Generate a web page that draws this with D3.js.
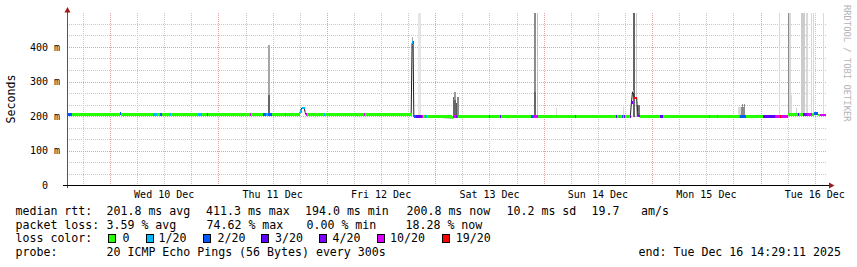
<!DOCTYPE html>
<html lang="en">
<head>
<meta charset="UTF-8">
<title>Smokeping latency</title>
<script src="https://cdn.jsdelivr.net/npm/d3@7"></script>
<style>
	body{margin:0;background:#fff;}
	svg{display:block;}
	text{font-family:"DejaVu Sans Mono",monospace;fill:#000;}
</style>
</head>
<body>
<svg id="chart" width="857" height="267"></svg>
<script>
// time span of the graph (December 2025, "DD HH:MM")
var startTime = "09 14:29", endTime = "16 14:29";

// median rtt in ms, line vertices
var median = [
	["09 14:29", 204.5], ["10 02:05", 204.5], ["10 02:15", 207], ["10 02:30", 204.5],
	["10 09:25", 203.5], ["11 00:45", 204.5], ["11 17:55", 204.5], ["11 18:10", 214],
	["11 18:25", 223], ["11 19:00", 223], ["11 19:10", 212], ["11 19:20", 204.5],
	["12 18:40", 204.5], ["12 18:52", 412], ["12 19:05", 412], ["12 19:15", 198.5],
	["12 21:15", 197.5], ["13 03:45", 194.5], ["13 04:00", 197.5], ["14 19:10", 197.5],
	["14 19:25", 240], ["14 19:40", 270], ["14 19:55", 262], ["14 20:05", 252],
	["14 20:35", 252], ["14 20:45", 210], ["14 20:55", 200], ["14 21:20", 197.5],
	["16 06:00", 198], ["16 06:10", 203.5], ["16 11:40", 203.5], ["16 11:55", 208],
	["16 12:25", 208], ["16 12:40", 203], ["16 14:29", 203]
];

// lost pings out of 20 (ranges not listed: 0 lost)
var loss = [
	["09 14:29", "09 15:35", 2], ["10 02:10", "10 02:25", 2], ["10 09:30", "10 10:25", 1],
	["10 11:05", "10 11:30", 2], ["10 13:15", "10 13:30", 1], ["10 19:30", "10 20:20", 1],
	["10 21:25", "10 21:40", 10], ["11 06:55", "11 07:10", 10], ["11 09:50", "11 10:30", 2],
	["11 10:30", "11 11:00", 1], ["11 11:00", "11 11:50", 2], ["11 14:40", "11 14:55", 1],
	["11 18:10", "11 19:10", 1], ["11 19:20", "11 19:35", 10], ["11 23:20", "11 23:35", 1],
	["12 08:10", "12 08:25", 10], ["12 18:50", "12 19:05", 1], ["12 19:10", "12 19:40", 2],
	["12 19:40", "12 21:00", 3], ["12 21:00", "12 21:15", 10], ["12 21:50", "12 22:05", 1],
	["13 03:55", "13 04:30", 10], ["13 04:30", "13 04:45", 4], ["13 04:45", "13 05:05", 10],
	["13 11:50", "13 12:05", 10], ["13 14:15", "13 14:30", 4], ["13 21:10", "13 21:40", 2],
	["13 21:40", "13 22:45", 10], ["14 06:55", "14 07:10", 10], ["14 15:55", "14 16:10", 3],
	["14 16:40", "14 16:55", 1], ["14 17:15", "14 17:30", 2], ["14 17:40", "14 17:55", 4],
	["14 19:05", "14 19:40", 4], ["14 19:55", "14 20:40", 19], ["14 20:40", "14 21:20", 4],
	["15 01:45", "15 02:25", 3], ["15 12:35", "15 12:50", 1], ["15 14:20", "15 14:35", 1],
	["15 19:10", "15 19:25", 1], ["15 19:25", "15 20:45", 2], ["16 00:30", "16 00:45", 19],
	["16 00:45", "16 03:10", 3], ["16 03:10", "16 04:15", 10], ["16 04:15", "16 04:30", 19],
	["16 04:30", "16 06:05", 10], ["16 08:15", "16 08:30", 3], ["16 09:20", "16 10:20", 4],
	["16 10:20", "16 11:25", 10], ["16 11:45", "16 12:40", 2], ["16 13:10", "16 14:29", 10]
];

// smoke: from, to, low ms, high ms, pings in band
var smoke = [
	["11 10:55", "11 11:25", 200, 262, 12], ["11 10:55", "11 11:25", 262, 406, 7],
	["12 18:50", "12 19:10", 410, 430, 7], ["12 20:05", "12 20:50", 200, 500, 2],
	["13 03:50", "13 04:10", 196, 256, 12], ["13 04:10", "13 04:30", 196, 270, 8],
	["13 04:10", "13 04:30", 196, 245, 12], ["13 04:30", "13 04:50", 196, 237, 13],
	["13 04:50", "13 05:10", 196, 256, 9], ["13 21:50", "13 22:20", 270, 500, 9],
	["13 21:50", "13 22:20", 196, 270, 12], ["13 22:25", "13 22:40", 196, 500, 5],
	["14 02:40", "14 02:55", 196, 222, 3], ["14 17:30", "14 17:45", 196, 225, 3],
	["14 19:40", "14 20:10", 196, 500, 12], ["14 20:25", "14 20:40", 196, 500, 4],
	["14 20:40", "14 21:20", 196, 232, 11], ["15 19:00", "15 19:35", 196, 225, 3],
	["15 19:35", "15 20:30", 196, 225, 9], ["15 19:50", "15 20:05", 196, 236, 9],
	["15 20:15", "15 20:30", 196, 236, 9], ["16 04:00", "16 04:12", 200, 500, 3],
	["16 06:00", "16 06:15", 200, 500, 9], ["16 06:15", "16 06:45", 200, 500, 3],
	["16 06:15", "16 07:00", 200, 260, 3], ["16 07:55", "16 08:10", 200, 222, 4],
	["16 09:00", "16 09:45", 200, 500, 4], ["16 10:00", "16 10:30", 200, 500, 3],
	["16 11:05", "16 11:15", 200, 500, 3], ["16 11:35", "16 11:45", 200, 500, 3],
	["16 13:45", "16 13:55", 200, 500, 3]
];

var lossSteps = ["0", "1/20", "2/20", "3/20", "4/20", "10/20", "19/20"];
var lossColors = ["#26ff00", "#00b8ff", "#0059ff", "#5e00ff", "#7e00ff", "#dd00ff", "#ff0000"];
var yMajor = [100, 200, 300, 400];

var rttStats = ["201.8 ms avg", "411.3 ms max", "194.0 ms min", "200.8 ms now", "10.2 ms sd", "19.7", "am/s"];
var lossStats = ["3.59 % avg", "74.62 % max", "0.00 % min", "18.28 % now"];
var probeText = "20 ICMP Echo Pings (56 Bytes) every 300s";
var endText = "end: Tue Dec 16 14:29:11 2025";

var parseT = d3.timeParse("%Y-%m-%d %H:%M");
function t(s){ return parseT("2025-12-" + s); }

var svg = d3.select("#chart");
var x = d3.scaleTime().domain([t(startTime), t(endTime)]).range([67, 826]);
var y = d3.scaleLinear().domain([0, 500]).range([185, 12.5]);
var shade = d3.scaleLinear().domain([0, 20]).range(["#ffffff", "#000000"]);
var lossColor = d3.scaleThreshold().domain([1, 2, 3, 4, 5, 11]).range(lossColors);

svg.append("rect").attr("width", 857).attr("height", 267).attr("fill", "#fff");

// grid
var g = svg.append("g").attr("shape-rendering", "crispEdges");
var yMinor = d3.range(0, 500, 100 / 3).filter(function(v){ return v > 0 && Math.abs(v % 100) > 1; });
g.selectAll(".hmin").data(yMinor).enter().append("line")
	.attr("x1", 67).attr("x2", 826)
	.attr("y1", function(d){ return Math.round(y(d)) + 0.5; })
	.attr("y2", function(d){ return Math.round(y(d)) + 0.5; })
	.attr("stroke", "#c8c8c8").attr("stroke-dasharray", "1,1");
var hours = d3.timeHour.every(6).range(x.domain()[0], x.domain()[1]);
g.selectAll(".vgrid").data(hours).enter().append("line")
	.attr("x1", function(d){ return Math.round(x(d)) + 0.5; })
	.attr("x2", function(d){ return Math.round(x(d)) + 0.5; })
	.attr("y1", 12.5).attr("y2", 185)
	.attr("stroke", function(d){ return d.getHours() === 0 ? "#e4a3a3" : "#c8c8c8"; })
	.attr("stroke-dasharray", "1,1");
g.selectAll(".hmaj").data(yMajor).enter().append("line")
	.attr("x1", 67).attr("x2", 826)
	.attr("y1", function(d){ return Math.round(y(d)) + 0.5; })
	.attr("y2", function(d){ return Math.round(y(d)) + 0.5; })
	.attr("stroke", "#e4a3a3").attr("stroke-dasharray", "1,1");

// smoke
svg.append("g").attr("shape-rendering", "crispEdges")
	.selectAll("rect").data(smoke).enter().append("rect")
	.attr("x", function(d){ return Math.round(x(t(d[0]))); })
	.attr("width", function(d){ return Math.max(1, Math.round(x(t(d[1]))) - Math.round(x(t(d[0])))); })
	.attr("y", function(d){ return Math.round(y(d[3])); })
	.attr("height", function(d){ return Math.round(y(d[2])) - Math.round(y(d[3])); })
	.attr("fill", function(d){ return shade(d[4]); });

// median
var pts = median.map(function(d){ return {t: t(d[0]), v: d[1]}; });
function valueAt(time){
	var v = pts[0].v;
	pts.forEach(function(p){ if (p.t <= time) v = p.v; });
	return v;
}
function stepPts(a, b){
	var out = [{t: a, v: valueAt(a)}];
	pts.forEach(function(p){ if (p.t > a && p.t < b) out.push(p); });
	out.push({t: b, v: out[out.length - 1].v});
	return out;
}
svg.append("path").datum(pts)
	.attr("d", d3.line().x(function(d){ return x(d.t); }).y(function(d){ return y(d.v); }))
	.attr("fill", "none").attr("stroke", "#202020").attr("stroke-width", 1);

var band = d3.area().curve(d3.curveStepAfter)
	.x(function(d){ return x(d.t); })
	.y0(function(d){ return y(d.v) + 1.4; })
	.y1(function(d){ return y(d.v) - 1.4; });
var bands = svg.append("g").attr("shape-rendering", "crispEdges");
bands.append("path").datum(stepPts(x.domain()[0], x.domain()[1]))
	.attr("d", band).attr("fill", lossColor(0));
bands.selectAll(".loss").data(loss).enter().append("path")
	.attr("d", function(d){ return band(stepPts(t(d[0]), t(d[1]))); })
	.attr("fill", function(d){ return lossColor(d[2]); });

// axes
svg.append("line").attr("x1", 67.5).attr("x2", 67.5).attr("y1", 188).attr("y2", 10)
	.attr("stroke", "#555").attr("shape-rendering", "crispEdges");
svg.append("line").attr("x1", 63).attr("x2", 830).attr("y1", 185.5).attr("y2", 185.5)
	.attr("stroke", "#000").attr("shape-rendering", "crispEdges");
svg.append("path").attr("d", "M64.5,12.5L70.5,12.5L67.5,7Z").attr("fill", "#9b1b1b");
svg.append("path").attr("d", "M829,182.5L829,188.5L834.5,185.5Z").attr("fill", "#9b1b1b");

// axis labels
svg.selectAll(".ylab").data([0].concat(yMajor)).enter().append("text")
	.attr("x", function(d){ return d === 0 ? 48 : 60; })
	.attr("y", function(d){ return y(d) + 3.5; })
	.attr("text-anchor", "end").attr("font-size", "10px")
	.text(function(d){ return d === 0 ? "0" : d + " m"; });
var days = d3.timeDay.range(x.domain()[0], x.domain()[1])
	.map(function(d){ return d3.timeHour.offset(d, 12); })
	.filter(function(d){ return d <= x.domain()[1]; });
svg.selectAll(".xlab").data(days).enter().append("text")
	.attr("x", function(d){ return x(d); }).attr("y", 198)
	.attr("text-anchor", "middle").attr("font-size", "10px")
	.text(d3.timeFormat("%a %d %b"));
svg.append("text").attr("transform", "translate(14.5,99) rotate(-90)")
	.attr("text-anchor", "middle").attr("font-size", "11.6px").text("Seconds");
svg.append("text").attr("transform", "translate(843.5,5) rotate(90)")
	.attr("font-size", "8.8px").style("fill", "#b4b4b4").text("RRDTOOL / TOBI OETIKER");

// legend
var lg = svg.append("g").attr("font-size", "11.6px");
var rowY = [215, 228.7, 242.4, 256.1];
lg.append("text").attr("x", 15.5).attr("y", rowY[0]).text("median rtt:");
var rttX = [106.5, 206, 305, 406.5, 506.5, 591.5, 641];
rttStats.forEach(function(s, i){ lg.append("text").attr("x", rttX[i]).attr("y", rowY[0]).text(s); });
lg.append("text").attr("x", 15.5).attr("y", rowY[1]).text("packet loss:");
var lossX = [106.5, 206.5, 306.5, 405.5];
lossStats.forEach(function(s, i){ lg.append("text").attr("x", lossX[i]).attr("y", rowY[1]).text(s); });
lg.append("text").attr("x", 15.5).attr("y", rowY[2]).text("loss color:");
var boxX = [108.5, 146, 203.5, 261.5, 319.5, 377, 442.5];
var labX = [122.5, 158.5, 217.5, 275, 332.5, 390, 455.8];
lossSteps.forEach(function(s, i){
	lg.append("rect").attr("x", boxX[i]).attr("y", 234.5).attr("width", 7).attr("height", 7.5)
		.attr("fill", lossColors[i]).attr("stroke", "#000").attr("shape-rendering", "crispEdges");
	lg.append("text").attr("x", labX[i]).attr("y", rowY[2]).text(s);
});
lg.append("text").attr("x", 15.5).attr("y", rowY[3]).text("probe:");
lg.append("text").attr("x", 106.5).attr("y", rowY[3]).text(probeText);
lg.append("text").attr("x", 841).attr("y", rowY[3]).attr("text-anchor", "end").text(endText);
</script>
</body>
</html>
